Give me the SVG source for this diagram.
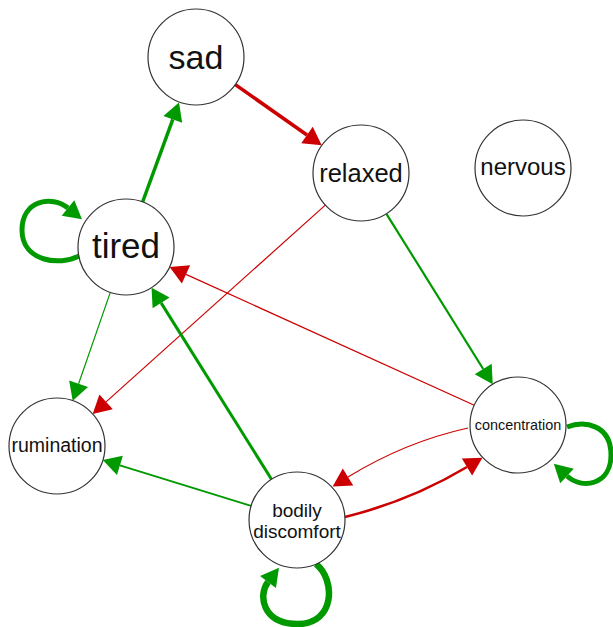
<svg xmlns="http://www.w3.org/2000/svg" width="613" height="627" viewBox="0 0 613 627">
<style>
.node circle{fill:#fff;stroke:#333;stroke-width:1.2}
.node text{font-family:"Liberation Sans",Arial,sans-serif;fill:#111;text-anchor:middle}
.e{fill:none}
.g{stroke:#009900}
.r{stroke:#cc0000}
.gm{marker-end:url(#ag)}
.rm{marker-end:url(#ar)}
</style>
<defs>
<marker id="ag" markerUnits="userSpaceOnUse" markerWidth="24" markerHeight="24" viewBox="0 -12 24 24" refX="0" refY="0" orient="auto" overflow="visible">
<path d="M0,-10 L18,0 L0,10 z" fill="#009900"/>
</marker>
<marker id="ar" markerUnits="userSpaceOnUse" markerWidth="24" markerHeight="24" viewBox="0 -12 24 24" refX="0" refY="0" orient="auto" overflow="visible">
<path d="M0,-10 L18,0 L0,10 z" fill="#cc0000"/>
</marker>
</defs>
<g id="edges">
<path class="e g gm" stroke-width="3.5" d="M142.6,202 L172.8,119.4"/>
<path class="e r rm" stroke-width="3.5" d="M235.3,84.6 L307,135"/>
<path class="e r rm" stroke-width="1.2" d="M325.3,205.1 L106.1,401.9"/>
<path class="e g gm" stroke-width="2.2" d="M386.4,213.8 L483.2,369"/>
<path class="e r rm" stroke-width="1.2" d="M474.3,405.2 L186,274.4"/>
<path class="e g gm" stroke-width="1.2" d="M110.3,292.4 L78.6,383.7"/>
<path class="e g gm" stroke-width="3" d="M271.5,479.3 L161.1,302.9"/>
<path class="e g gm" stroke-width="1.8" d="M251.1,505.8 L119.9,465.4"/>
<path class="e r rm" stroke-width="1.2" d="M468,428 Q405,442 348,477"/>
<path class="e r rm" stroke-width="2.6" d="M345,517 Q410,501 467,467"/>
<path class="e g gm" stroke-width="5" d="M79,256 C60,266 22,262 22,230 C22,200 52,195 68,208"/>
<path class="e g gm" stroke-width="5" d="M567,427 C585,420 611,425 611,455 C611,485 582,490 567,476"/>
<path class="e g gm" stroke-width="6.5" d="M316,564 C336,580 335,624 298,624 C262,624 258,595 268,582"/>
</g>
<g id="sad" class="node"><circle cx="196" cy="57" r="48"/><text x="196" y="69" font-size="34">sad</text></g>
<g id="relaxed" class="node"><circle cx="361" cy="173" r="48"/><text x="361" y="182" font-size="25.5">relaxed</text></g>
<g id="nervous" class="node"><circle cx="523" cy="168" r="48"/><text x="523" y="175" font-size="24">nervous</text></g>
<g id="tired" class="node"><circle cx="126" cy="247" r="48"/><text x="126" y="258" font-size="35">tired</text></g>
<g id="rumination" class="node"><circle cx="57" cy="446" r="48"/><text x="57" y="452" font-size="19.5">rumination</text></g>
<g id="concentration" class="node"><circle cx="518" cy="425" r="48"/><text x="518" y="430" font-size="14.4">concentration</text></g>
<g id="bodily_discomfort" class="node"><circle cx="297" cy="520" r="48"/><text x="297" y="517" font-size="19">bodily</text><text x="297" y="538" font-size="19">discomfort</text></g>
</svg>
